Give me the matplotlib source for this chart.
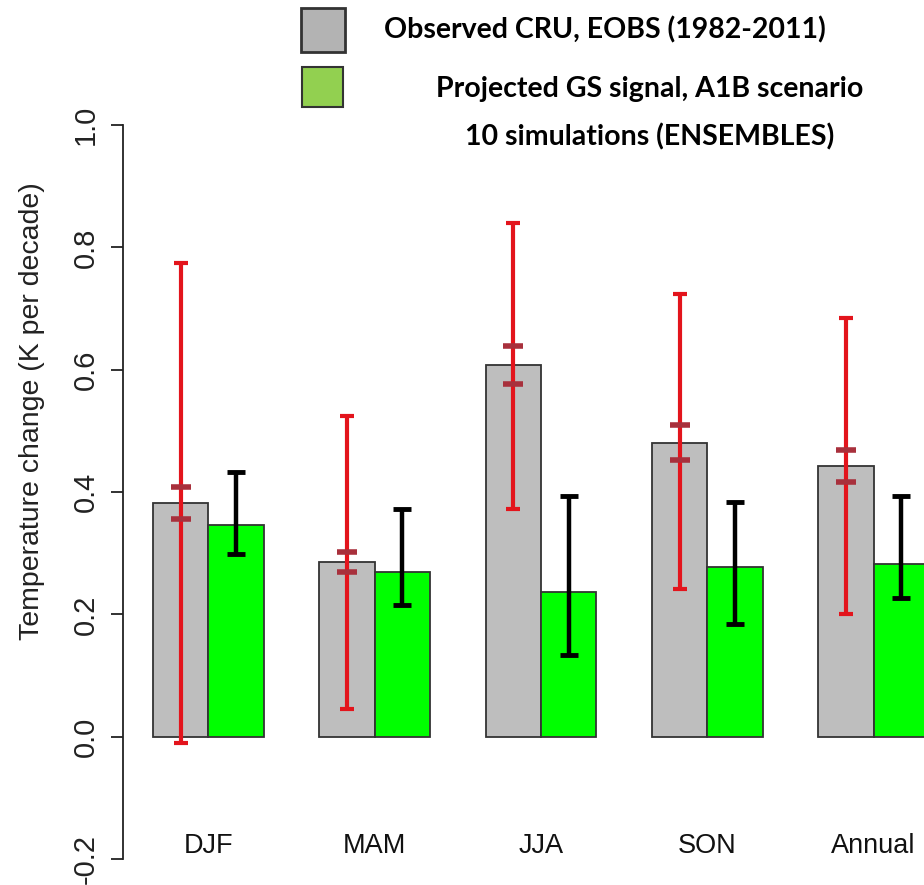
import matplotlib
matplotlib.use("Agg")
import matplotlib.pyplot as plt
import numpy as np
from matplotlib.patches import Rectangle

# ---- data ----
seasons = ["DJF", "MAM", "JJA", "SON", "Annual"]
observed = [0.382, 0.285, 0.607, 0.480, 0.442]
obs_outer_low = [-0.010, 0.046, 0.373, 0.241, 0.201]
obs_outer_high = [0.774, 0.525, 0.840, 0.723, 0.685]
obs_inner_low = [0.356, 0.270, 0.576, 0.453, 0.417]
obs_inner_high = [0.408, 0.302, 0.638, 0.509, 0.469]
projected = [0.346, 0.270, 0.237, 0.277, 0.282]
proj_low = [0.298, 0.215, 0.134, 0.184, 0.227]
proj_high = [0.433, 0.372, 0.393, 0.383, 0.393]
yticks = [-0.2, 0.0, 0.2, 0.4, 0.6, 0.8, 1.0]
legend_labels = ["Observed CRU, EOBS (1982-2011)",
                 "Projected GS signal, A1B scenario\n10 simulations (ENSEMBLES)"]

W, H = 924, 885
fig = plt.figure(figsize=(W / 100, H / 100), dpi=100)
ax = fig.add_axes([123 / W, (H - 859) / H, (W - 123) / W, (859 - 125) / H])

n = len(seasons)
grey_x = np.arange(n) * 3 + 1.5
green_x = grey_x + 1.0

ax.bar(grey_x, observed, width=1.0, color="#BEBEBE", edgecolor="#333333", linewidth=1.3, zorder=2)
ax.bar(green_x, projected, width=1.0, color="#00FF00", edgecolor="#333333", linewidth=1.3, zorder=2)

obs = np.array(observed)
ax.errorbar(grey_x, obs, yerr=[obs - np.array(obs_outer_low), np.array(obs_outer_high) - obs],
            fmt="none", ecolor="#E3141C", elinewidth=3.0, capsize=5.2, capthick=3.0, zorder=3)
for xs, ys in ((grey_x, obs_inner_low), (grey_x, obs_inner_high)):
    ax.plot(xs, ys, linestyle="none", marker="_", markersize=14.5, markeredgewidth=4.0,
            color="#A8303C", zorder=4)
proj = np.array(projected)
ax.errorbar(green_x, proj, yerr=[proj - np.array(proj_low), np.array(proj_high) - proj],
            fmt="none", ecolor="black", elinewidth=3.2, capsize=6.5, capthick=3.5, zorder=3)

ax.set_xlim(0.458, 14.91)
ax.set_ylim(-0.2, 1.0)
for s in ("top", "right", "bottom"):
    ax.spines[s].set_visible(False)
ax.spines["left"].set_bounds(-0.2, 1.0)
ax.spines["left"].set_linewidth(1.3)
ax.spines["left"].set_color("#222222")
ax.set_xticks([])
ax.set_yticks(yticks)
ax.set_yticklabels([f"{v:.1f}" for v in yticks],
                   rotation=90, va="center", ha="right", fontsize=21, family="Liberation Sans",
                   color="#222222")
ax.tick_params(axis="y", length=9, width=1.3, pad=8, color="#222222")
ax.patch.set_alpha(0)

for gx, lab in zip(grey_x + 0.5, seasons):
    ax.text(gx, -0.178, lab, ha="center", va="center", fontsize=19.5,
            family="Liberation Sans", color="#111111")

fig.text(32 / W, 1 - 411 / H, "Temperature change (K per decade)", rotation=90,
         ha="center", va="center", fontsize=20.5, family="Liberation Sans", color="#222222")

# legend
fig.patches.append(Rectangle((301 / W, 1 - 52 / H), 44 / W, 44 / H, transform=fig.transFigure,
                             facecolor="#B3B3B3", edgecolor="#333333", linewidth=2))
fig.patches.append(Rectangle((302 / W, 1 - 107 / H), 41 / W, 40 / H, transform=fig.transFigure,
                             facecolor="#92D050", edgecolor="#333333", linewidth=1.5))
fig.text(605 / W, 1 - 30 / H, legend_labels[0], ha="center", va="center", fontsize=20.5,
         family="Lato", fontweight="bold")
l2, l3 = legend_labels[1].split("\n")
fig.text(650 / W, 1 - 89 / H, l2, ha="center", va="center", fontsize=20.5,
         family="Lato", fontweight="bold")
fig.text(650 / W, 1 - 137 / H, l3, ha="center", va="center", fontsize=20.5,
         family="Lato", fontweight="bold")

fig.savefig("out.png", dpi=100)
